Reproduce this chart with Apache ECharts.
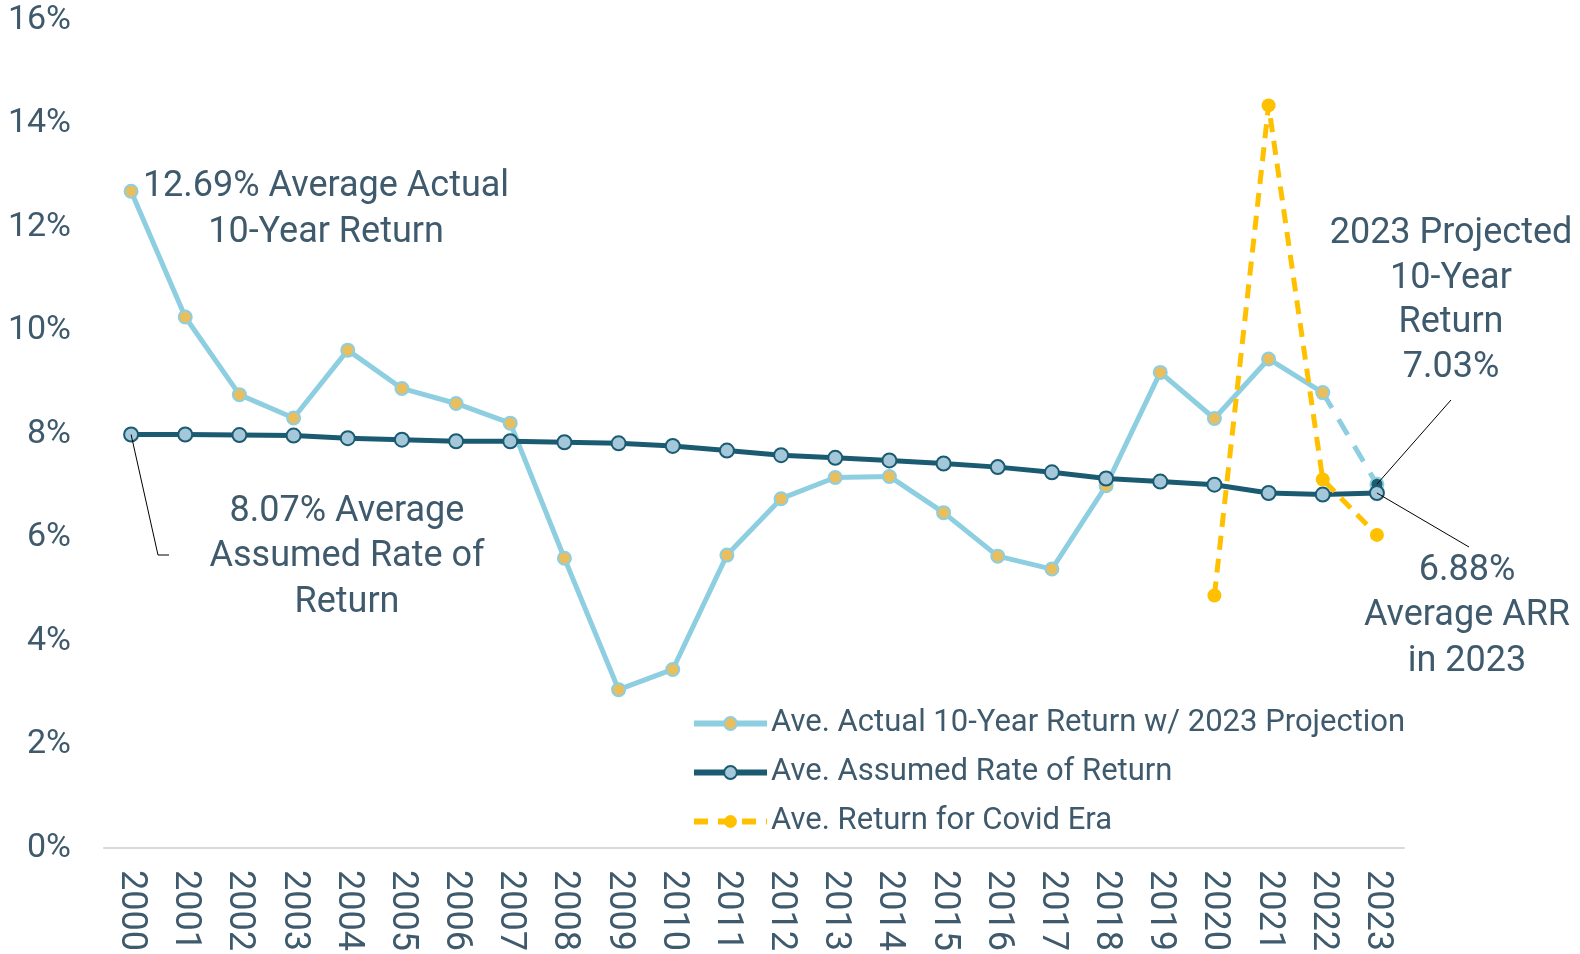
<!DOCTYPE html>
<html>
<head>
<meta charset="utf-8">
<script src="https://cdn.jsdelivr.net/npm/echarts@6/dist/echarts.min.js"></script>
<style>
  html, body { margin: 0; padding: 0; background: #fff; }
  #chart { width: 1580px; height: 954px; }
</style>
</head>
<body>
<div id="chart"></div>
<script>
const years = ['2000', '2001', '2002', '2003', '2004', '2005', '2006', '2007', '2008', '2009', '2010', '2011',
  '2012', '2013', '2014', '2015', '2016', '2017', '2018', '2019', '2020', '2021', '2022', '2023'];

// actual 10-year return, solid part (through 2022)
const actualReturn = [12.69, 10.26, 8.76, 8.31, 9.62, 8.88, 8.59, 8.21, 5.60, 3.06, 3.45, 5.66,
  6.75, 7.16, 7.18, 6.48, 5.64, 5.39, 7.00, 9.19, 8.30, 9.45, 8.80, null];
// dashed projection segment 2022 -> 2023
const projectedReturn = [null, null, null, null, null, null, null, null, null, null, null, null,
  null, null, null, null, null, null, null, null, null, null, 8.80, 7.03];
const assumedRate = [7.99, 7.99, 7.98, 7.97, 7.92, 7.89, 7.86, 7.86, 7.84, 7.82, 7.77, 7.68,
  7.59, 7.54, 7.49, 7.43, 7.36, 7.26, 7.14, 7.08, 7.02, 6.86, 6.83, 6.86];
const covidReturn = [null, null, null, null, null, null, null, null, null, null, null, null,
  null, null, null, null, null, null, null, null, 4.88, 14.35, 7.12, 6.05];

const yTicks = { min: 0, max: 16, step: 2 };

const NAME_ACTUAL = 'Ave. Actual 10-Year Return w/ 2023 Projection';
const NAME_ASSUMED = 'Ave. Assumed Rate of Return';
const NAME_COVID = 'Ave. Return for Covid Era';

const FONT = 'Roboto';
const TEXT = '#3E5A6C';
const LIGHT = '#8ECEE1';
const GOLD_DOT = '#E9BE5C';
const DARK = '#1B5B71';
const DARK_DOT = '#A4C7DA';
const GOLD = '#FFC000';

const chart = echarts.init(document.getElementById('chart'));

const option = {
  backgroundColor: '#fff',
  animation: false,
  textStyle: { fontFamily: FONT },
  grid: { left: 104, right: 176, top: 20, bottom: 106 },
  legend: {
    orient: 'vertical',
    left: 686,
    top: 703,
    itemWidth: 73,
    itemHeight: 16,
    itemGap: 18,
    textStyle: { color: TEXT, fontSize: 31, fontFamily: FONT, padding: [0, 0, 0, -1] },
    data: [
      { name: NAME_ACTUAL, lineStyle: { width: 6 } },
      { name: NAME_ASSUMED, lineStyle: { width: 6 } },
      { name: NAME_COVID, lineStyle: { width: 6, type: [14, 10] } },
    ],
  },
  xAxis: {
    type: 'category',
    data: years,
    boundaryGap: true,
    axisLine: { lineStyle: { color: '#D9D9D9', width: 2 } },
    axisTick: { show: false },
    axisLabel: { rotate: -90, color: TEXT, fontSize: 36, margin: 22, fontFamily: FONT },
  },
  yAxis: {
    type: 'value',
    min: yTicks.min,
    max: yTicks.max,
    interval: yTicks.step,
    axisLine: { show: false },
    axisTick: { show: false },
    splitLine: { show: false },
    axisLabel: { formatter: '{value}%', color: TEXT, fontSize: 34, margin: 33, fontFamily: FONT },
  },
  series: [
    {
      name: NAME_ACTUAL,
      type: 'line',
      data: actualReturn,
      symbol: 'circle',
      symbolSize: 13,
      lineStyle: { color: LIGHT, width: 5 },
      itemStyle: { color: GOLD_DOT, borderColor: LIGHT, borderWidth: 2 },
      z: 2,
    },
    {
      name: NAME_ACTUAL,
      type: 'line',
      data: projectedReturn.map((v, i) => i === 22 ? { value: v, symbol: 'none' } :
        (i === 23 ? { value: v, itemStyle: { color: DARK } } : v)),
      symbol: 'circle',
      symbolSize: 13,
      lineStyle: { color: LIGHT, width: 5, type: [18, 13] },
      itemStyle: { color: GOLD_DOT, borderColor: LIGHT, borderWidth: 2 },
      z: 2,
    },
    {
      name: NAME_ASSUMED,
      type: 'line',
      data: assumedRate,
      symbol: 'circle',
      symbolSize: 14,
      lineStyle: { color: DARK, width: 5 },
      itemStyle: { color: DARK_DOT, borderColor: DARK, borderWidth: 2 },
      z: 3,
    },
    {
      name: NAME_COVID,
      type: 'line',
      data: covidReturn,
      symbol: 'circle',
      symbolSize: 14,
      lineStyle: { color: GOLD, width: 5, type: [14, 9] },
      itemStyle: { color: GOLD },
      z: 4,
    },
  ],
};

chart.setOption(option);

// annotations + leader lines, anchored to the data points
const p2000 = chart.convertToPixel({ seriesIndex: 2 }, [0, assumedRate[0]]);
const pProj = chart.convertToPixel({ seriesIndex: 1 }, [23, projectedReturn[23]]);
const pArr = chart.convertToPixel({ seriesIndex: 2 }, [23, assumedRate[23]]);

const NOTE_FONT = '36px ' + FONT;

chart.setOption({
  graphic: [
    { type: 'text', x: 326, y: 164, z: 10,
      style: { text: '12.69% Average Actual\n10-Year Return', fill: TEXT, font: NOTE_FONT, lineHeight: 46, align: 'center', verticalAlign: 'top' } },
    { type: 'text', x: 347, y: 489, z: 10,
      style: { text: '8.07% Average\nAssumed Rate of\nReturn', fill: TEXT, font: NOTE_FONT, lineHeight: 45.5, align: 'center', verticalAlign: 'top' } },
    { type: 'text', x: 1451, y: 212, z: 10,
      style: { text: '2023 Projected\n10-Year\nReturn\n7.03%', fill: TEXT, font: NOTE_FONT, lineHeight: 44.5, align: 'center', verticalAlign: 'top' } },
    { type: 'text', x: 1467, y: 548, z: 10,
      style: { text: '6.88%\nAverage ARR\nin 2023', fill: TEXT, font: NOTE_FONT, lineHeight: 45.5, align: 'center', verticalAlign: 'top' } },
    { type: 'polyline', z: 10, silent: true,
      shape: { points: [p2000, [158, 555], [169, 555]] },
      style: { stroke: '#000', lineWidth: 1, fill: null } },
    { type: 'polyline', z: 10, silent: true,
      shape: { points: [pProj, [1451, 400]] },
      style: { stroke: '#000', lineWidth: 1, fill: null } },
    { type: 'polyline', z: 10, silent: true,
      shape: { points: [pArr, [1469, 547]] },
      style: { stroke: '#000', lineWidth: 1, fill: null } },
  ],
});
</script>
</body>
</html>
